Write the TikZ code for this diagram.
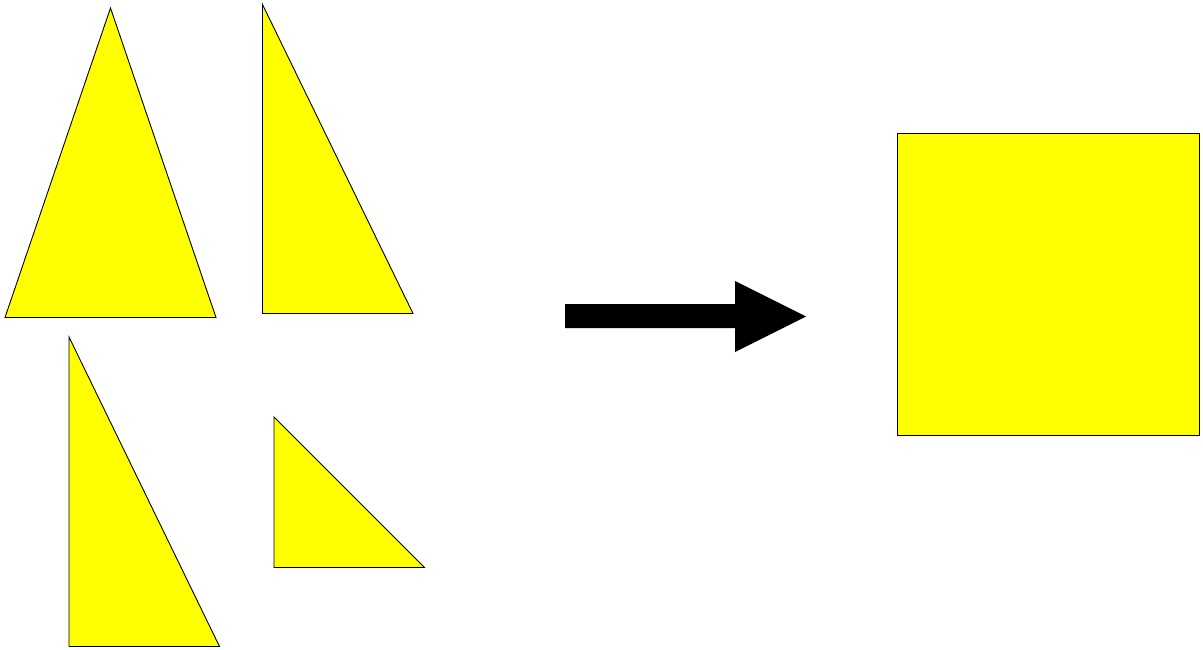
\documentclass[tikz,border=0pt]{standalone}
\definecolor{pieceyellow}{RGB}{255,255,0}
\begin{document}
\begin{tikzpicture}[x=1pt,y=-1pt,
  piece/.style={fill=pieceyellow,draw=black,line width=0.9pt,line join=miter},
  bigarrow/.style={fill=black,draw=none}]
\useasboundingbox (0,0) rectangle (1203,650);
% left pieces
\path[piece] (110.5,8) -- (216,317.5) -- (5,317.5) -- cycle;
\path[piece] (262.5,4.5) -- (413,313.5) -- (262.5,313.5) -- cycle;
\path[piece] (69,337) -- (219.5,646.5) -- (69,646.5) -- cycle;
\path[piece] (274,417) -- (424.5,567.5) -- (274,567.5) -- cycle;
% arrow
\path[bigarrow] (565,304) -- (735,304) -- (735,281) -- (806,316.5) -- (735,352) -- (735,328) -- (565,328) -- cycle;
% square
\path[piece] (897.5,133) rectangle (1199.5,435);
\end{tikzpicture}
\end{document}
